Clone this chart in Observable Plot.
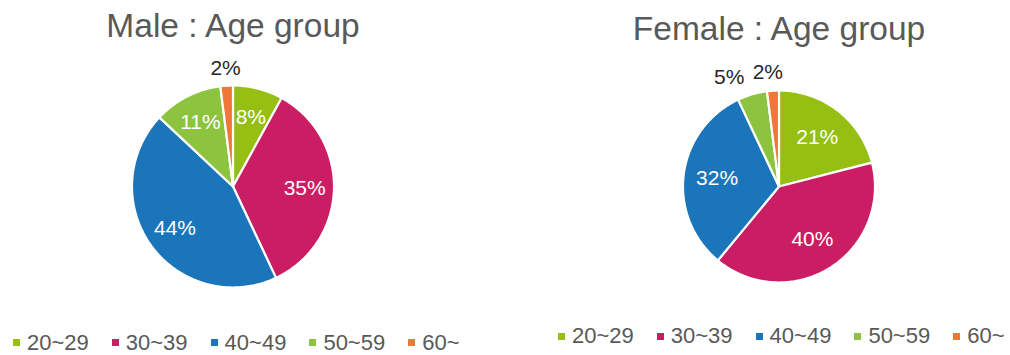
<!DOCTYPE html>
<html>
<head>
<meta charset="utf-8">
<script src="https://cdn.jsdelivr.net/npm/d3@7"></script>
<script src="https://cdn.jsdelivr.net/npm/@observablehq/plot@0.6"></script>
<style>
  body { margin: 0; background: #fff; }
  #wrap { position: relative; width: 1010px; height: 355px; overflow: hidden;
          font-family: "Liberation Sans", Arial, sans-serif; }
  .panel { position: absolute; top: 0; }
  .legend { position: absolute; display: flex; align-items: center; white-space: nowrap;
            font-size: 22px; color: #595959; line-height: 1; }
  .legend .item { display: inline-flex; align-items: center; margin-right: 23px; }
  .legend .sw { width: 7px; height: 7px; margin-right: 7px; display: inline-block; }
</style>
</head>
<body>
<div id="wrap"></div>
<script>
// Age bands, shared by both pies
const ageGroups = ["20~29", "30~39", "40~49", "50~59", "60~"];
const groupColors = ["#95BF13", "#CB1D63", "#1B75BB", "#8CC43F", "#F07639"];

// Share of each age band (%)
const maleShare = [8, 35, 44, 11, 2];
const femaleShare = [21, 40, 32, 5, 2];

// Panel titles
const maleTitle = "Male : Age group";
const femaleTitle = "Female : Age group";

const W = 465, H = 355;

// Polygon outline of each slice on a unit circle, clockwise from 12 o'clock
function slicePoints(shares) {
  const total = d3.sum(shares);
  const rows = [];
  let acc = 0;
  shares.forEach((v, i) => {
    const a0 = acc / total * 2 * Math.PI;
    acc += v;
    const a1 = acc / total * 2 * Math.PI;
    const n = Math.max(2, Math.ceil((a1 - a0) / (Math.PI / 180)));
    rows.push({group: ageGroups[i], x: 0, y: 0});
    for (let k = 0; k <= n; k++) {
      const a = a0 + (a1 - a0) * k / n;
      rows.push({group: ageGroups[i], x: Math.sin(a), y: Math.cos(a)});
    }
    rows.push({group: ageGroups[i], x: 0, y: 0});
  });
  return rows;
}

// Label anchor for each slice: inside for large slices, outside for small ones
function sliceLabels(shares, rIn, rOut) {
  const total = d3.sum(shares);
  let acc = 0;
  return shares.map((v, i) => {
    const mid = (acc + v / 2) / total * 2 * Math.PI;
    acc += v;
    const outside = v <= 5;
    const r = outside ? rOut : rIn;
    return {index: i, group: ageGroups[i], value: v, outside,
            x: r * Math.sin(mid), y: r * Math.cos(mid)};
  });
}

function piePanel({title, shares, cx, cy, R, rIn, rOut, titleBaseline, nudge}) {
  const labels = sliceLabels(shares, rIn, rOut);
  return Plot.plot({
    width: W, height: H, margin: 0,
    style: {fontFamily: '"Liberation Sans", Arial, sans-serif', background: "transparent", overflow: "visible"},
    x: {domain: [-cx / R, (W - cx) / R], axis: null},
    y: {domain: [-(H - cy) / R, cy / R], axis: null},
    color: {domain: ageGroups, range: groupColors},
    marks: [
      Plot.line(slicePoints(shares), {
        x: "x", y: "y", z: "group", fill: "group",
        stroke: "white", strokeWidth: 2.2, strokeLinejoin: "round", curve: "linear"
      }),
      Plot.text(labels.filter(d => !d.outside), {
        x: "x", y: "y", text: d => d.value + "%", fill: "white", fontSize: 21
      }),
      ...labels.filter(d => d.outside).map(d => Plot.text([d], {
        x: "x", y: "y", text: d => d.value + "%", fill: "#262626", fontSize: 21,
        dx: nudge[d.index] || 0
      })),
      Plot.text([title], {
        frameAnchor: "top", dy: titleBaseline, lineAnchor: "bottom",
        fontSize: 33.5, fill: "#595959"
      })
    ]
  });
}

function legendBox(plot, left, centerY) {
  const color = plot.scale("color");
  const box = document.createElement("div");
  box.className = "legend";
  box.style.left = left + "px";
  box.style.top = (centerY - 10) + "px";
  box.style.height = "20px";
  color.domain.forEach(g => {
    const item = document.createElement("span");
    item.className = "item";
    const sw = document.createElement("span");
    sw.className = "sw";
    sw.style.background = color.apply(g);
    item.appendChild(sw);
    item.appendChild(document.createTextNode(g));
    box.appendChild(item);
  });
  return box;
}

const wrap = document.getElementById("wrap");

const male = piePanel({title: maleTitle, shares: maleShare, cx: 232.5, cy: 186, R: 101,
                       rIn: 0.71, rOut: 1.17, titleBaseline: 36, nudge: {}});
male.classList.add("panel");
male.style.left = "0px";
wrap.appendChild(male);

const female = piePanel({title: femaleTitle, shares: femaleShare, cx: 232.5, cy: 186, R: 96,
                         rIn: 0.65, rOut: 1.19, titleBaseline: 39, nudge: {3: -18, 4: -4}});
female.classList.add("panel");
female.style.left = "546px";
wrap.appendChild(female);

wrap.appendChild(legendBox(male, 13, 342.5));
wrap.appendChild(legendBox(female, 558, 336));
</script>
</body>
</html>
